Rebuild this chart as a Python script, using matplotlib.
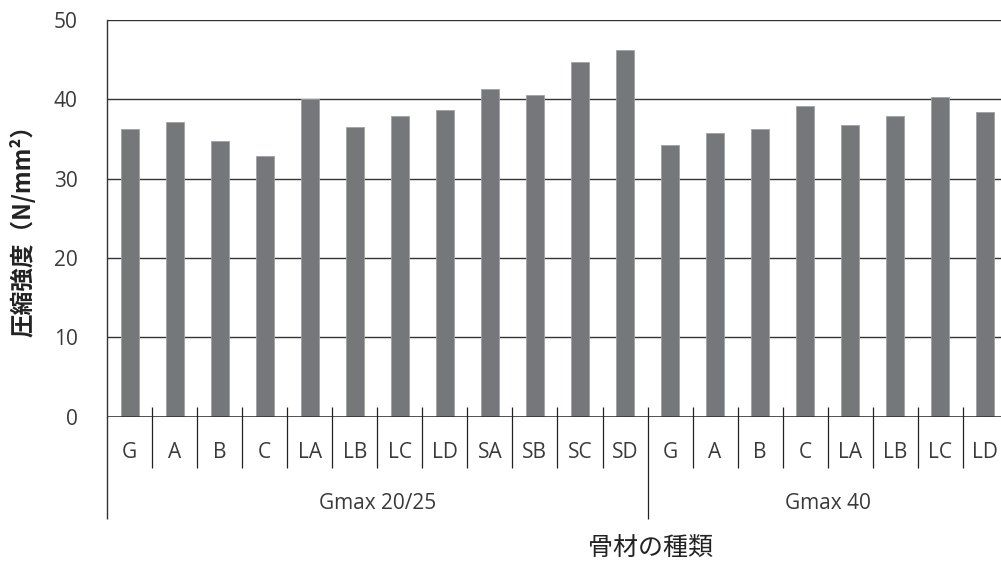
import numpy as np
import matplotlib
matplotlib.use("Agg")
import matplotlib.pyplot as plt

plt.rcParams['font.family'] = ['Open Sans', 'Noto Sans CJK JP', 'DejaVu Sans']

categories = ['G', 'A', 'B', 'C', 'LA', 'LB', 'LC', 'LD', 'SA', 'SB', 'SC', 'SD',
              'G', 'A', 'B', 'C', 'LA', 'LB', 'LC', 'LD']
strength = [36.3, 37.2, 34.8, 32.9, 40.1, 36.5, 37.9, 38.6, 41.3, 40.6, 44.7, 46.2,
            34.2, 35.8, 36.3, 39.2, 36.8, 37.9, 40.3, 38.4]
groups = ['Gmax 20/25', 'Gmax 40']
group_sizes = [12, 8]
yticks = [0, 10, 20, 30, 40, 50]

txt = '#3a3a3a'

fig = plt.figure(figsize=(10.01, 5.61), dpi=100)
ax = fig.add_axes([0.1069, 0.2572, 0.9, 0.7071])

x = np.arange(len(categories))
ax.bar(x, strength, width=0.4, color='#76777a', edgecolor='#a0a1a4', linewidth=0.6, zorder=3)

ax.set_xlim(-0.5, len(categories) - 0.5)
ax.set_ylim(0, 50)
ax.set_yticks(yticks)
ax.set_yticklabels([str(t) for t in yticks], fontsize=15, color=txt)
ax.tick_params(axis='y', length=0, pad=21)
ax.set_xticks([])
for t in yticks[1:]:
    ax.axhline(t, color='#333333', linewidth=1.0, zorder=1)

for s in ['top', 'right', 'bottom']:
    ax.spines[s].set_visible(False)
ax.spines['left'].set_color('#333333')
ax.spines['left'].set_linewidth(1.0)
ax.axhline(0, color='#333333', linewidth=1.2, zorder=4)

# category dividers and labels
bounds = np.cumsum(group_sizes)
for k in range(len(categories) - 1):
    bottom = -12.9 if (k + 1) in bounds else -6.45
    ax.vlines(k + 0.5, bottom, 1.2, color='#222222', linewidth=0.9, clip_on=False, zorder=5)
ax.vlines(-0.5, -12.9, 0, color='#333333', linewidth=1.0, clip_on=False)
for i, c in enumerate(categories):
    ax.text(i, -4.5, c, ha='center', va='center', fontsize=15, color=txt, clip_on=False)

start = 0
for g, n in zip(groups, group_sizes):
    ax.text(start + n / 2 - 0.5, -11.0, g, ha='center', va='center', fontsize=15,
            color=txt, clip_on=False)
    start += n

fig.text(650 / 1001, 1 - 548 / 561, '骨材の種類', ha='center', va='center', fontsize=18,
         color='#222222', family=['Noto Sans CJK JP', 'DejaVu Sans'])
fig.text(23 / 1001, 1 - 225 / 561, '圧縮強度（N/mm²）', ha='center', va='center', fontsize=17,
         rotation=90, fontweight='bold', color='#222222', family=['Noto Sans CJK JP', 'DejaVu Sans'])

fig.savefig('out.png', dpi=100)
